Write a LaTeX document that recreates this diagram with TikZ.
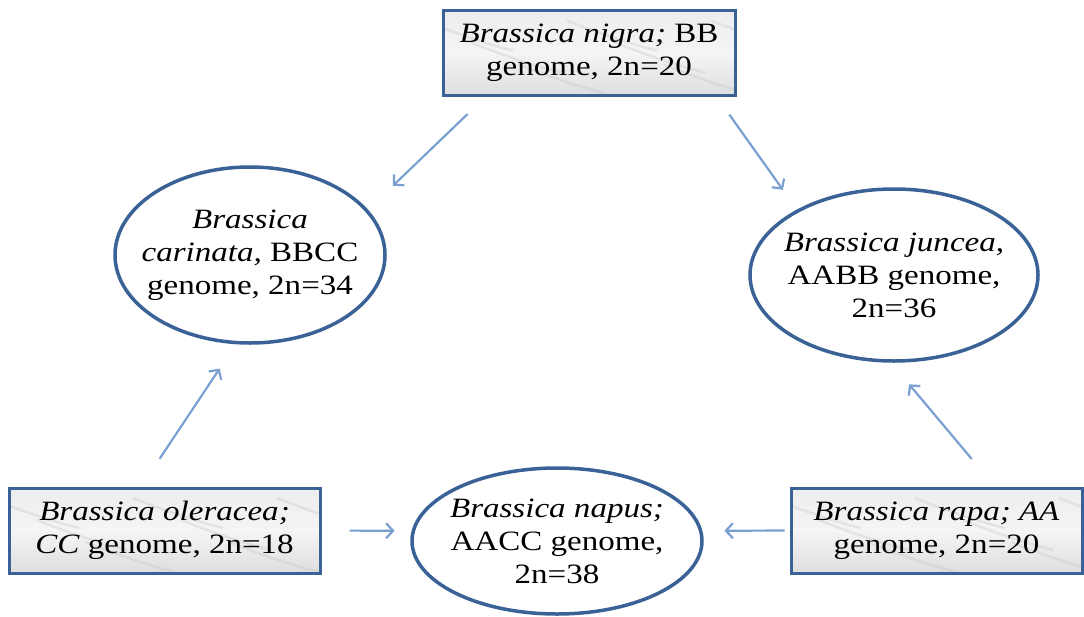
\documentclass[tikz,border=0pt]{standalone}
\usepackage{fontspec}
\setmainfont{Liberation Serif}[FakeStretch=1.18]
\definecolor{bordeazul}{RGB}{58, 98, 150}
\definecolor{flechaazul}{RGB}{122, 160, 210}
\usetikzlibrary{arrows.meta}
\usetikzlibrary{shapes.geometric, shadows}
\usetikzlibrary{calc}

\begin{document}
\begin{tikzpicture}[x=1pt, y=-1pt,
    genoma/.style={draw=bordeazul, line width=3pt, top color=gray!14, bottom color=gray!26, middle color=gray!8, drop shadow={shadow xshift=1.5pt, shadow yshift=-1.8pt, opacity=0.5},
        path picture={
            \foreach \k in {0,...,6}
                \draw[gray!45, opacity=0.35, line width=2.5pt] ($(path picture bounding box.north west)+(\k*48-20,{10+mod(\k,3)*22})$) .. controls +(30,12) and +(-25,-6) .. +(90,30);
        },
        minimum height=85pt, inner sep=0pt, align=center, font=\fontsize{28}{33}\selectfont},
    hibrido/.style={ellipse, draw=bordeazul, line width=3.5pt, fill=white, inner sep=-20pt, align=center, font=\fontsize{28}{33}\selectfont},
    flecha/.style={flechaazul, line width=2.2pt, -{Straight Barb[length=7pt, width=15pt]}}]
    \useasboundingbox (0,0) rectangle (1084,616);

    % Parent species (diploids)
    \node[genoma, minimum width=292pt] (nigra) at (589,53) {\textit{Brassica nigra;} BB\\genome, 2n=20};
    \node[genoma, minimum width=311pt] (oleracea) at (164.5,530.5) {\textit{Brassica oleracea;}\\\textit{CC} genome, 2n=18};
    \node[genoma, minimum width=291pt] (rapa) at (936.5,530.5) {\textit{Brassica rapa; AA}\\genome, 2n=20};

    % Amphidiploids
    \node[hibrido, minimum width=270pt, minimum height=176pt] (carinata) at (250,255) {\textit{Brassica}\\\textit{carinata,} BBCC\\genome, 2n=34};
    \node[hibrido, minimum width=288pt, minimum height=172pt] (juncea) at (894,275) {\textit{Brassica juncea,}\\AABB genome,\\2n=36};
    \node[hibrido, minimum width=290pt, minimum height=146pt] (napus) at (557,541) {\textit{Brassica napus;}\\AACC genome,\\2n=38};

    % Arrows from parents to hybrids
    \draw[flecha, shorten <=24.5pt, shorten >=34.6pt] (nigra.-157.6) -- (carinata.21);
    \draw[flecha, shorten <=21.6pt, shorten >=24.2pt] (nigra.-19.9) -- (juncea.146.3);
    \draw[flecha, shorten <=33.3pt, shorten >=29.2pt] (oleracea.118) -- (carinata.-99.2);
    \draw[flecha, shorten <=35.9pt, shorten >=28.2pt] (rapa.37.2) -- (juncea.-92.5);
    \draw[flecha, shorten <=28pt, shorten >=17pt] (oleracea.east) -- (napus.176);
    \draw[flecha, shorten <=5pt, shorten >=22pt] (rapa.west) -- (napus.4);
\end{tikzpicture}
\end{document}
